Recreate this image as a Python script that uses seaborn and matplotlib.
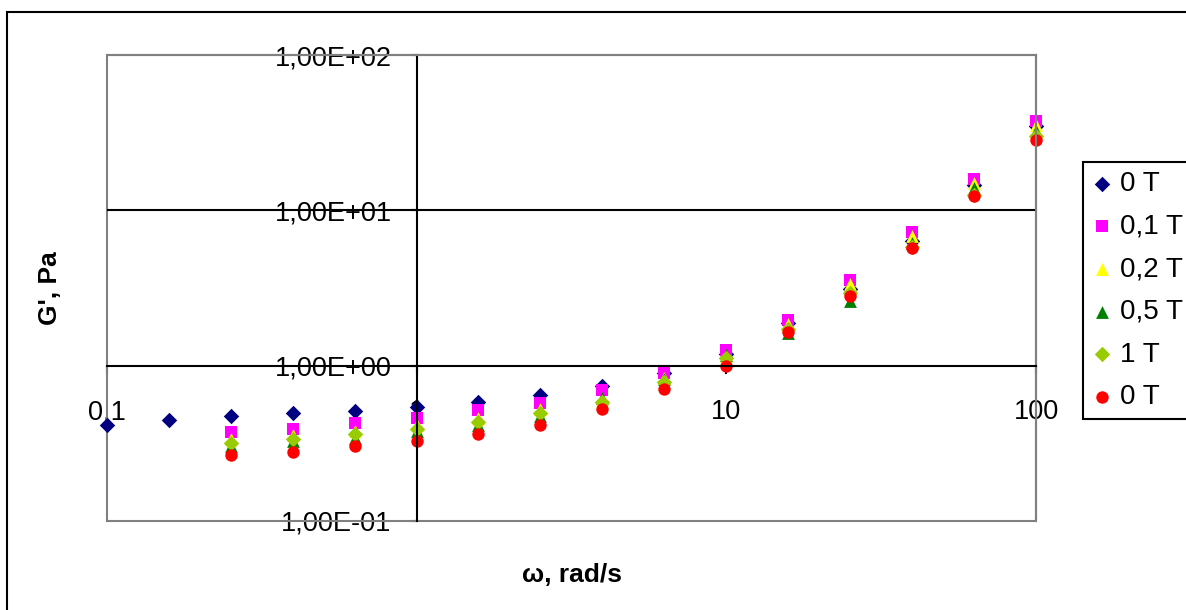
import matplotlib
matplotlib.use("Agg")
import numpy as np
import pandas as pd
import matplotlib.pyplot as plt
from matplotlib.patches import Rectangle
from matplotlib.ticker import FixedLocator, FixedFormatter, NullLocator
import seaborn as sns

# Angular frequency, rad/s
omega = [0.1, 0.158, 0.251, 0.398, 0.631, 1.0, 1.58, 2.51, 3.98, 6.31,
         10.0, 15.8, 25.1, 39.8, 63.1, 100.0]

# Storage modulus G', Pa, for each magnetic field
g_0T_a = [0.417, 0.449, 0.476, 0.496, 0.513, 0.545, 0.58, 0.648, 0.743, 0.897,
          1.195, 1.88, 3.10, 6.33, 14.6, 35.0]
g_01T = [np.nan, np.nan, 0.374, 0.393, 0.428, 0.462, 0.515, 0.572, 0.693, 0.90,
         1.268, 1.98, 3.55, 7.22, 15.8, 37.4]
g_02T = [np.nan, np.nan, 0.337, 0.360, 0.381, 0.417, 0.460, 0.523, 0.600, 0.833,
         1.15, 1.86, 3.38, 6.88, 15.0, 35.5]
g_05T = [np.nan, np.nan, 0.302, 0.326, 0.343, 0.377, 0.417, 0.476, 0.615, 0.82,
         1.177, 1.62, 2.59, 6.17, 13.9, 32.2]
g_1T = [np.nan, np.nan, 0.318, 0.339, 0.363, 0.391, 0.434, 0.493, 0.584, 0.79,
        1.12, 1.72, 2.94, 5.85, 12.6, 30.3]
g_0T_b = [np.nan, np.nan, 0.265, 0.278, 0.302, 0.326, 0.363, 0.417, 0.529, 0.71,
          1.0, 1.65, 2.79, 5.72, 12.3, 28.5]

series_labels = ["0 T", "0,1 T", "0,2 T", "0,5 T", "1 T", "0 T"]
series_values = [g_0T_a, g_01T, g_02T, g_05T, g_1T, g_0T_b]

x_ticks = [0.1, 1, 10, 100]
x_tick_labels = ["0,1", "1", "10", "100"]
y_ticks = [0.1, 1, 10, 100]
y_tick_labels = ["1,00E-01", "1,00E+00", "1,00E+01", "1,00E+02"]

# Marker styles per series
markers = ["D", "s", "^", "^", "D", "o"]
colors = ["#000080", "#FF00FF", "#FFFF00", "#008000", "#99CC00", "#FF0000"]
sizes = [62, 72, 85, 85, 62, 80]

sns.set_theme(style="white")
plt.rcParams["font.family"] = ["Liberation Sans", "DejaVu Sans"]
plt.rcParams["text.color"] = "black"
plt.rcParams["axes.labelcolor"] = "black"

W, H = 1186, 610
fig = plt.figure(figsize=(W / 100, H / 100), dpi=100)
fig.patch.set_facecolor("white")

# Outer chart border
fig.add_artist(Rectangle((7 / W, -0.02), 1.1, 1 - 12 / H + 0.02,
                         transform=fig.transFigure, fill=False,
                         edgecolor="black", linewidth=1.5))

left, right, top, bottom = 107, 1036, 55, 521
ax = fig.add_axes([left / W, 1 - bottom / H, (right - left) / W, (bottom - top) / H])
ax.set_xscale("log")
ax.set_yscale("log")
ax.set_xlim(0.1, 100)
ax.set_ylim(0.1, 100)

for lab, vals, m, c, s in zip(series_labels, series_values, markers, colors, sizes):
    df = pd.DataFrame({"omega": omega, "G": vals}).dropna()
    sns.scatterplot(data=df, x="omega", y="G", marker=m, color=c, s=s,
                    linewidth=0, label=lab, ax=ax, clip_on=False, zorder=2)

# Axes cross at omega = 1 and G' = 1
lw = 1.5
ax.spines["left"].set_position(("data", 1))
ax.spines["bottom"].set_position(("data", 1))
for side in ["left", "bottom"]:
    ax.spines[side].set_color("black")
    ax.spines[side].set_linewidth(lw)
    ax.spines[side].set_zorder(2.5)
for side in ["top", "right"]:
    ax.spines[side].set_color("#808080")
    ax.spines[side].set_linewidth(lw)
ax.add_patch(Rectangle((0, 0), 1, 1, transform=ax.transAxes, fill=False,
                       edgecolor="#808080", linewidth=lw, zorder=1.5, clip_on=False))
ax.axhline(10, color="black", linewidth=lw, zorder=1.6)

ax.xaxis.set_major_locator(FixedLocator(x_ticks))
ax.xaxis.set_major_formatter(FixedFormatter(x_tick_labels))
ax.yaxis.set_major_locator(FixedLocator(y_ticks))
ax.yaxis.set_major_formatter(FixedFormatter(y_tick_labels))
ax.xaxis.set_minor_locator(NullLocator())
ax.yaxis.set_minor_locator(NullLocator())

ax.tick_params(axis="x", bottom=True, direction="out", length=6, width=lw,
               color="black", labelcolor="black", labelsize=19.5, pad=18)
ax.tick_params(axis="y", left=True, direction="out", length=4, width=lw,
               color="black", labelcolor="black", labelsize=19.5, pad=14)

ax.set_xlabel("ω, rad/s", fontsize=19, fontweight="bold", va="center")
ax.set_ylabel("G', Pa", fontsize=19, fontweight="bold", va="center")
ax.xaxis.set_label_coords(0.5, (bottom - 575) / (bottom - top))
ax.yaxis.set_label_coords((50 - left) / (right - left), 0.5)

leg = ax.legend(loc="upper left", bbox_to_anchor=(1083 / W, 1 - 162 / H),
                bbox_transform=fig.transFigure, borderaxespad=0,
                fontsize=20, frameon=True, fancybox=False, framealpha=1,
                edgecolor="black", handlelength=0.7, handletextpad=0.3,
                labelspacing=0.6, borderpad=0.32, scatterpoints=1)
leg.get_frame().set_linewidth(lw)
for t in leg.get_texts():
    t.set_color("black")

fig.savefig("out.png", dpi=100, facecolor="white")
